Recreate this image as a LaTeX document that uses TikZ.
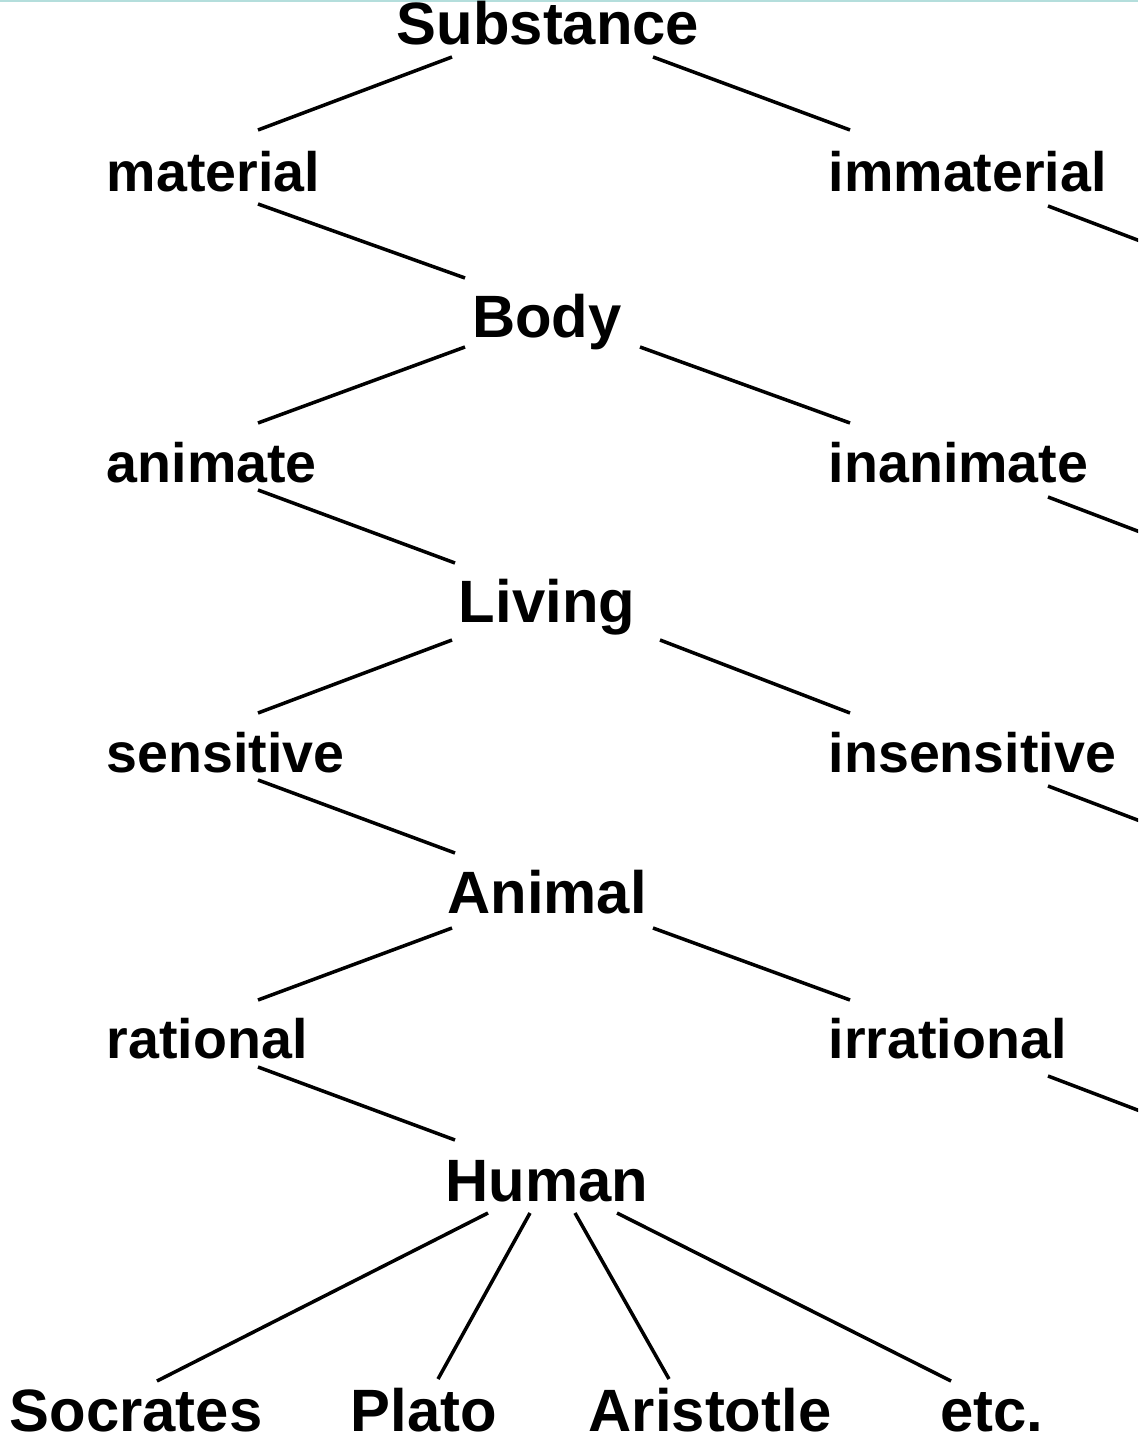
\documentclass[tikz,border=0pt]{standalone}
\usepackage{fontspec}
\setmainfont{Liberation Sans}
\usepackage{tikz}
\usetikzlibrary{calc, positioning}
\definecolor{TreeInk}{HTML}{000000}
\definecolor{EdgeTeal}{HTML}{B4DEDC}

\begin{document}
\begin{tikzpicture}[x=0.01cm, y=-0.01cm, line width=1pt,
    genus/.style={inner sep=0pt, anchor=base, font=\fontsize{17}{20}\selectfont\bfseries, text=TreeInk},
    diff/.style={inner sep=0pt, anchor=base west, font=\fontsize{15.8}{19}\selectfont\bfseries, text=TreeInk},
    branch/.style={draw=TreeInk, line cap=butt}]
      \useasboundingbox (0,0) rectangle (1138,1440);
      \clip (0,0) rectangle (1138,1440);
      \fill[EdgeTeal] (0,0) rectangle (1138,2);

      % Nodes
      \node[genus] (substance) at (548,45) {Substance};
      \node[diff] (material) at (105,192) {material};
      \node[diff] (immaterial) at (827,192) {immaterial};
      \node[genus] (body) at (547,338) {Body};
      \node[diff] (animate) at (105,483) {animate};
      \node[diff] (inanimate) at (827,483) {inanimate};
      \node[genus] (living) at (547,623) {Living};
      \node[diff] (sensitive) at (105,772) {sensitive};
      \node[diff] (insensitive) at (827,772) {insensitive};
      \node[genus] (animal) at (547,913) {Animal};
      \node[diff] (rational) at (105,1058) {rational};
      \node[diff] (irrational) at (827,1058) {irrational};
      \node[genus] (human) at (547,1201) {Human};
      \node[genus] (socrates) at (136,1431) {Socrates};
      \node[genus] (plato) at (424,1431) {Plato};
      \node[genus] (aristotle) at (710,1431) {Aristotle};
      \node[genus] (etc) at (992,1431) {etc.};

      % Free ends past the right border
      \coordinate (offA) at ($(immaterial.base west)+(371,71)$);
      \coordinate (offB) at ($(inanimate.base west)+(371,71)$);
      \coordinate (offC) at ($(insensitive.base west)+(371,71)$);
      \coordinate (offD) at ($(irrational.base west)+(371,75)$);

      % Paths
      \draw[branch] ($(substance.base)+(-96,12)$) -- ($(material.base west)+(153,-62)$);
      \draw[branch] ($(substance.base)+(105,12)$) -- ($(immaterial.base west)+(23,-62)$);
      \draw[branch] ($(material.base west)+(153,12)$) -- ($(body.base)+(-82,-60)$);
      \draw[branch] ($(immaterial.base west)+(221,14)$) -- (offA);

      \draw[branch] ($(body.base)+(-82,9)$) -- ($(animate.base west)+(153,-60)$);
      \draw[branch] ($(body.base)+(93,9)$) -- ($(inanimate.base west)+(23,-60)$);
      \draw[branch] ($(animate.base west)+(153,7)$) -- ($(living.base)+(-92,-60)$);
      \draw[branch] ($(inanimate.base west)+(221,14)$) -- (offB);

      \draw[branch] ($(living.base)+(-95,17)$) -- ($(sensitive.base west)+(153,-59)$);
      \draw[branch] ($(living.base)+(113,17)$) -- ($(insensitive.base west)+(23,-59)$);
      \draw[branch] ($(sensitive.base west)+(153,8)$) -- ($(animal.base)+(-92,-60)$);
      \draw[branch] ($(insensitive.base west)+(221,14)$) -- (offC);

      \draw[branch] ($(animal.base)+(-95,15)$) -- ($(rational.base west)+(153,-58)$);
      \draw[branch] ($(animal.base)+(106,15)$) -- ($(irrational.base west)+(23,-58)$);
      \draw[branch] ($(rational.base west)+(153,9)$) -- ($(human.base)+(-92,-61)$);
      \draw[branch] ($(irrational.base west)+(221,18)$) -- (offD);

      \draw[branch] ($(human.base)+(-59,12)$) -- ($(socrates.base)+(21,-50)$);
      \draw[branch] ($(human.base)+(-17,12)$) -- ($(plato.base)+(14,-52)$);
      \draw[branch] ($(human.base)+(28,12)$) -- ($(aristotle.base)+(-41,-52)$);
      \draw[branch] ($(human.base)+(70,12)$) -- ($(etc.base)+(-41,-50)$);
\end{tikzpicture}
\end{document}
